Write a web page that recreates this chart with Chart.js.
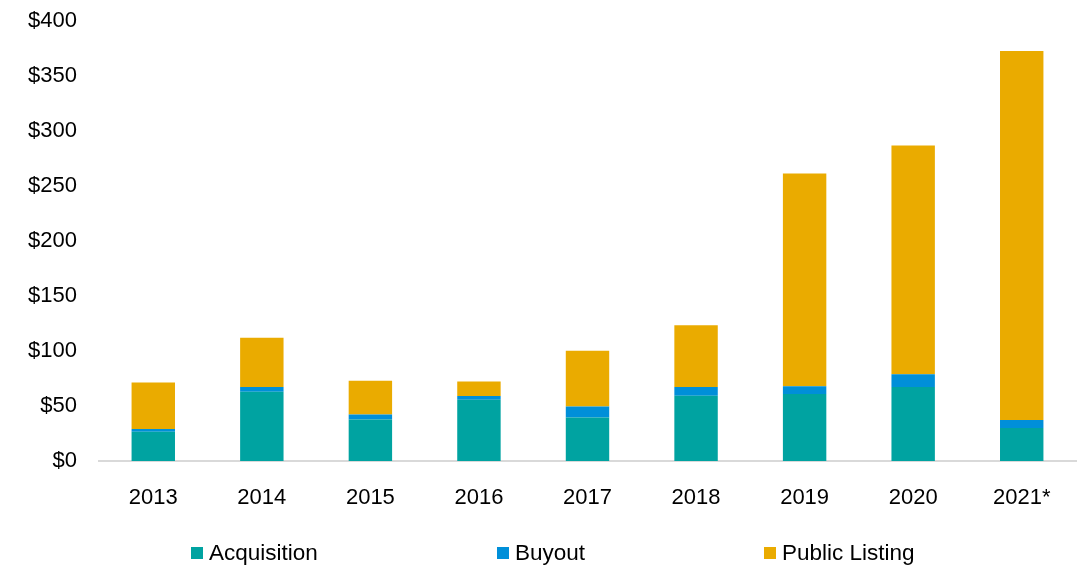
<!DOCTYPE html>
<html>
<head>
<meta charset="utf-8">
<script src="https://cdn.jsdelivr.net/npm/chart.js@4/dist/chart.umd.min.js"></script>
<style>
  html, body { margin: 0; padding: 0; background: #fff; }
  #wrap { position: relative; width: 1084px; height: 567px; }
  #legend { position: absolute; left: 0; top: 541px; width: 1084px; height: 24px;
    font-family: "Liberation Sans", Arial, sans-serif; font-size: 22.5px; color: #000; }
  .item { position: absolute; top: 0; display: flex; align-items: center; height: 24px; white-space: nowrap; }
  .box { width: 12px; height: 12px; margin-right: 6px; }
</style>
</head>
<body>
<div id="wrap">
  <canvas id="chart" width="1084" height="567"></canvas>
  <div id="legend"></div>
</div>
<script>
const years = ["2013", "2014", "2015", "2016", "2017", "2018", "2019", "2020", "2021*"];
const acquisition = [26.5, 63, 37.7, 55.8, 39.5, 59.4, 61, 67.2, 30];
const buyout = [2.7, 4.2, 4.5, 3.3, 10, 7.8, 7, 11.8, 7.3];
const publicListing = [42.3, 45, 30.8, 13.3, 50.7, 56.2, 193.5, 207.9, 335.6];
const seriesNames = ["Acquisition", "Buyout", "Public Listing"];
const colores = ["#00A3A1", "#008FD9", "#EAAB00"];
const legendLeft = [191, 497, 764];

const fuente = { family: "'Liberation Sans', Arial, sans-serif", size: 22 };

const datos = [acquisition, buyout, publicListing];

const ctx = document.getElementById("chart").getContext("2d");
const chart = new Chart(ctx, {
  type: "bar",
  data: {
    labels: years,
    datasets: seriesNames.map((nombre, i) => ({
      label: nombre,
      data: datos[i],
      backgroundColor: colores[i],
      borderWidth: 0,
      barPercentage: 0.4,
      categoryPercentage: 1.0
    }))
  },
  options: {
    responsive: false,
    animation: false,
    layout: { padding: { top: 0, right: 8, left: 0, bottom: 0 } },
    plugins: {
      legend: { display: false },
      tooltip: { enabled: false }
    },
    scales: {
      x: {
        stacked: true,
        grid: { display: false },
        border: { display: true, color: "#D9D9D9", width: 2 },
        ticks: { color: "#000", font: fuente, padding: 16, maxRotation: 0 },
        afterFit: (scale) => { scale.height = 106; }
      },
      y: {
        stacked: true,
        min: 0,
        max: 400,
        // las marcas no se dibujan, solo separan las etiquetas del eje
        grid: { display: false, drawTicks: true, tickLength: 14 },
        border: { display: false },
        ticks: {
          stepSize: 50,
          color: "#000",
          font: fuente,
          padding: 8,
          callback: (v) => "$" + v
        },
        afterFit: (scale) => { scale.width = 99; }
      }
    }
  }
});

// leyenda en html, con el mismo espaciado que el original
const leyenda = document.getElementById("legend");
seriesNames.forEach((nombre, i) => {
  const item = document.createElement("div");
  item.className = "item";
  item.style.left = legendLeft[i] + "px";
  const box = document.createElement("span");
  box.className = "box";
  box.style.background = colores[i];
  const txt = document.createElement("span");
  txt.textContent = nombre;
  item.appendChild(box);
  item.appendChild(txt);
  leyenda.appendChild(item);
});
</script>
</body>
</html>
